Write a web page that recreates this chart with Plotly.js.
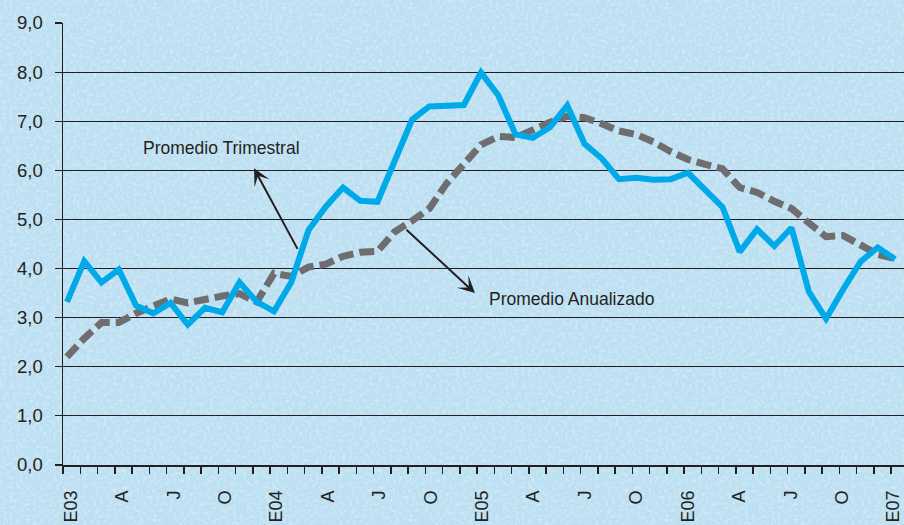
<!DOCTYPE html>
<html>
<head>
<meta charset="utf-8">
<script src="https://cdn.plot.ly/plotly-3.0.1.min.js"></script>
<style>
  html, body { margin: 0; padding: 0; }
  body {
    width: 904px; height: 525px; overflow: hidden;
    background-color: #bcdff2;
    background-image: url("data:image/svg+xml;utf8,<svg xmlns='http://www.w3.org/2000/svg' width='256' height='256'><filter id='n'><feTurbulence type='fractalNoise' baseFrequency='0.3' numOctaves='2' stitchTiles='stitch'/><feColorMatrix values='0 0 0 0 1  0 0 0 0 1  0 0 0 0 1  0 0 0 1.6 -0.7'/></filter><rect width='100%' height='100%' filter='url(%23n)' opacity='0.55'/></svg>");
  }
  #chart { width: 904px; height: 525px; }
</style>
</head>
<body>
<div id="chart"></div>
<script>
// Month index 0 = E03 (January 2003) ... 48 = E07 (January 2007)
const months = Array.from({length: 49}, (_, i) => i);

const promedioTrimestral = [
  3.32, 4.15, 3.72, 3.98, 3.25, 3.09, 3.30, 2.86, 3.20, 3.11,
  3.72, 3.32, 3.13, 3.72, 4.78, 5.26, 5.65, 5.38, 5.36, 6.19,
  7.03, 7.30, 7.31, 7.33, 7.99, 7.53, 6.73, 6.66, 6.88, 7.32,
  6.54, 6.24, 5.82, 5.85, 5.81, 5.82, 5.95, 5.60, 5.25, 4.34,
  4.80, 4.46, 4.83, 3.53, 2.98, 3.58, 4.14, 4.43, 4.19
];

const promedioAnualizado = [
  2.20, 2.58, 2.90, 2.90, 3.09, 3.25, 3.38, 3.30, 3.38, 3.44,
  3.49, 3.32, 3.90, 3.84, 4.03, 4.09, 4.25, 4.33, 4.35, 4.75,
  4.97, 5.22, 5.73, 6.14, 6.52, 6.69, 6.67, 6.82, 6.98, 7.10,
  7.07, 6.95, 6.80, 6.73, 6.58, 6.38, 6.22, 6.12, 6.03, 5.65,
  5.55, 5.37, 5.22, 4.93, 4.65, 4.67, 4.48, 4.29, 4.20
];

const tickLabels = ["E03","A","J","O","E04","A","J","O","E05","A","J","O","E06","A","J","O","E07"];
const tickLabelPos = tickLabels.map((_, k) => 0.23 + k * 2.98);
const tickMarkPos = months.map(m => m - 0.22);
const yTicks = [0,1,2,3,4,5,6,7,8,9];

const xRange = [-0.232, 48.52];
const font = "'Liberation Sans', Arial, Helvetica, sans-serif";

const traces = [
  {
    x: months, y: promedioAnualizado, type: 'scatter', mode: 'lines',
    name: 'Promedio Anualizado',
    line: {color: '#6e6e70', width: 7, dash: '15px,6px'},
    hoverinfo: 'skip'
  },
  {
    x: months, y: promedioTrimestral, type: 'scatter', mode: 'lines',
    name: 'Promedio Trimestral',
    line: {color: '#00a9e8', width: 6},
    hoverinfo: 'skip'
  }
];

const layout = {
  width: 904, height: 525,
  margin: {l: 63, r: 0, t: 23, b: 60, pad: 0},
  paper_bgcolor: 'rgba(0,0,0,0)',
  plot_bgcolor: 'rgba(0,0,0,0)',
  showlegend: false,
  separators: ',.',
  font: {family: font, color: '#231f20', size: 18},
  xaxis: {
    range: xRange,
    tickmode: 'array', tickvals: tickMarkPos,
    showticklabels: false,
    ticks: 'outside', ticklen: 7, tickwidth: 1.5, tickcolor: '#231f20',
    showgrid: false, zeroline: false,
    showline: true, linecolor: '#231f20', linewidth: 1.5
  },
  xaxis2: {
    overlaying: 'x', anchor: 'y', side: 'bottom',
    range: xRange,
    tickmode: 'array', tickvals: tickLabelPos, ticktext: tickLabels,
    tickangle: -90, ticks: '', ticklabelstandoff: 21,
    ticklabeloverflow: 'allow',
    tickfont: {family: font, size: 18, color: '#231f20'},
    showgrid: false, zeroline: false, showline: false
  },
  yaxis: {
    range: [0, 9],
    tickmode: 'array', tickvals: yTicks,
    tickformat: '.1f',
    ticks: 'outside', ticklen: 7, tickwidth: 1.2, tickcolor: '#231f20',
    ticklabelstandoff: 8,
    tickfont: {family: font, size: 18.5, color: '#231f20'},
    showgrid: true, gridcolor: '#231f20', gridwidth: 1.2,
    zeroline: false,
    showline: true, linecolor: '#231f20', linewidth: 1.5
  },
  annotations: [
    {
      xref: 'x', yref: 'y', x: 8.93, y: 6.45,
      text: 'Promedio Trimestral', showarrow: false,
      font: {family: font, size: 17.5, color: '#231f20'},
      xanchor: 'center', yanchor: 'middle'
    },
    {
      xref: 'x', yref: 'y', x: 29.26, y: 3.38,
      text: 'Promedio Anualizado', showarrow: false,
      font: {family: font, size: 17.5, color: '#231f20'},
      xanchor: 'center', yanchor: 'middle'
    },
    {
      xref: 'x', yref: 'y', x: 10.84, y: 6.04,
      axref: 'x', ayref: 'y', ax: 13.41, ay: 4.37,
      text: '', showarrow: true,
      arrowhead: 3, arrowsize: 1.4, arrowwidth: 2, arrowcolor: '#231f20'
    },
    {
      xref: 'x', yref: 'y', x: 23.65, y: 3.5,
      axref: 'x', ayref: 'y', ax: 19.59, ay: 4.82,
      text: '', showarrow: true,
      arrowhead: 3, arrowsize: 1.4, arrowwidth: 2, arrowcolor: '#231f20'
    }
  ]
};

// attach the label axis to a dummy empty trace so it is drawn
traces.push({x: [], y: [], xaxis: 'x2', yaxis: 'y', type: 'scatter', mode: 'lines', hoverinfo: 'skip'});

Plotly.newPlot('chart', traces, layout, {staticPlot: true, displayModeBar: false});
</script>
</body>
</html>
